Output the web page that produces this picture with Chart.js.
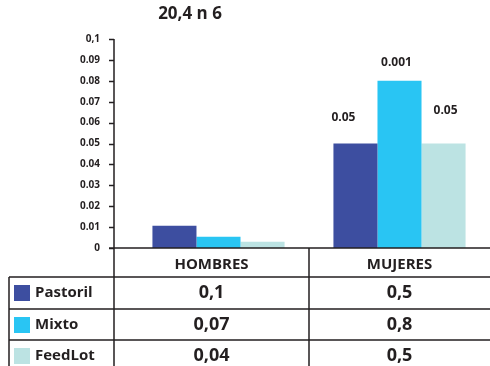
<!DOCTYPE html>
<html>
<head>
<meta charset="utf-8">
<script src="https://cdn.jsdelivr.net/npm/chart.js@4/dist/chart.umd.min.js"></script>
<style>
  body { margin: 0; background: #fff; }
  #wrap { width: 490px; height: 366px; }
</style>
</head>
<body>
<div id="wrap"><canvas id="chart" width="490" height="366"></canvas></div>
<script>
const categories = ["HOMBRES", "MUJERES"];
const seriesNames = ["Pastoril", "Mixto", "FeedLot"];
const pastoril = [0.0107, 0.05];
const mixto = [0.0054, 0.08];
const feedlot = [0.003, 0.05];
const pastorilTable = ["0,1", "0,5"];
const mixtoTable = ["0,07", "0,8"];
const feedlotTable = ["0,04", "0,5"];
const pastorilLabels = ["", "0.05"];
const mixtoLabels = ["", "0.001"];
const feedlotLabels = ["", "0.05"];
const titleText = "20,4 n 6";

const colors = ["rgb(61, 78, 160)", "rgb(41, 197, 243)", "rgb(188, 227, 227)"];
const ink = "#231f20";
const font = "'Open Sans', sans-serif";

const tablePlugin = {
  id: "tablePlugin",
  afterDraw(chart) {
    const ctx = chart.ctx;
    const area = chart.chartArea;
    const x = chart.scales.x;
    const y = chart.scales.y;
    const axisX = 114;
    const H = chart.height;
    const W = chart.width;
    const rows = [pastorilTable, mixtoTable, feedlotTable];
    const rowTop = [277, 309, 340];
    const colSplit = (x.getPixelForValue(0) + x.getPixelForValue(1)) / 2;

    ctx.save();
    // title
    ctx.fillStyle = ink;
    ctx.font = "bold 17px " + font;
    ctx.textAlign = "center";
    ctx.textBaseline = "middle";
    ctx.fillText(titleText, 190, 14);

    ctx.strokeStyle = ink;
    ctx.lineWidth = 1.5;
    // y axis line + ticks
    ctx.beginPath();
    ctx.moveTo(axisX, area.top);
    ctx.lineTo(axisX, H);
    y.ticks.forEach((t) => {
      const py = Math.round(y.getPixelForValue(t.value)) + 0.5;
      ctx.moveTo(axisX - 5, py);
      ctx.lineTo(axisX, py);
    });
    // table grid
    ctx.moveTo(axisX - 5, area.bottom);
    ctx.lineTo(W, area.bottom);
    rowTop.forEach((ry) => {
      ctx.moveTo(9, ry);
      ctx.lineTo(W, ry);
    });
    ctx.moveTo(9, rowTop[0]);
    ctx.lineTo(9, H);
    ctx.moveTo(colSplit, area.bottom);
    ctx.lineTo(colSplit, H);
    ctx.stroke();

    const colCenters = [(axisX + colSplit) / 2, (colSplit + W) / 2];
    // header
    ctx.font = "bold 15px " + font;
    categories.forEach((c, i) => {
      ctx.fillText(c, colCenters[i], (area.bottom + rowTop[0]) / 2 + 2);
    });
    // rows
    rows.forEach((row, r) => {
      const cy = rowTop[r] + 16;
      ctx.fillStyle = colors[r];
      ctx.fillRect(14, cy - 8, 16, 16);
      ctx.fillStyle = ink;
      ctx.textAlign = "left";
      ctx.font = "bold 15px " + font;
      ctx.fillText(seriesNames[r], 35, cy);
      ctx.textAlign = "center";
      ctx.font = "bold 18px " + font;
      row.forEach((v, i) => ctx.fillText(v, colCenters[i], cy));
    });
    ctx.restore();
  },
  afterDatasetsDraw(chart) {
    const ctx = chart.ctx;
    const labels = [pastorilLabels, mixtoLabels, feedlotLabels];
    const dy = [26, 18, 33];
    const dx = [-12, -3, 2];
    ctx.save();
    ctx.fillStyle = ink;
    ctx.font = "bold 12px " + font;
    ctx.textAlign = "center";
    ctx.textBaseline = "middle";
    labels.forEach((set, d) => {
      const meta = chart.getDatasetMeta(d);
      set.forEach((txt, i) => {
        if (!txt) return;
        const bar = meta.data[i];
        ctx.fillText(txt, bar.x + dx[d], bar.y - dy[d]);
      });
    });
    ctx.restore();
  },
};

new Chart(document.getElementById("chart"), {
  type: "bar",
  data: {
    labels: categories,
    datasets: [
      { label: seriesNames[0], data: pastoril, backgroundColor: colors[0] },
      { label: seriesNames[1], data: mixto, backgroundColor: colors[1] },
      { label: seriesNames[2], data: feedlot, backgroundColor: colors[2] },
    ],
  },
  options: {
    responsive: false,
    animation: false,
    layout: { padding: { top: 39, bottom: 118, left: 0, right: 0 } },
    datasets: { bar: { barPercentage: 1, categoryPercentage: 0.73 } },
    plugins: {
      legend: { display: false },
      tooltip: { enabled: false },
      title: { display: false },
    },
    scales: {
      x: { display: false },
      y: {
        min: 0,
        max: 0.1,
        afterFit: (scale) => {
          scale.width = 128;
        },
        grid: { display: false },
        border: { display: false },
        ticks: {
          stepSize: 0.01,
          padding: 20,
          color: ink,
          font: { family: font, size: 10, weight: "bold" },
          callback: (v) => {
            if (Math.abs(v) < 1e-9) return "0";
            if (Math.abs(v - 0.1) < 1e-9) return "0,1";
            return v.toFixed(2);
          },
        },
      },
    },
  },
  plugins: [tablePlugin],
});
</script>
</body>
</html>
